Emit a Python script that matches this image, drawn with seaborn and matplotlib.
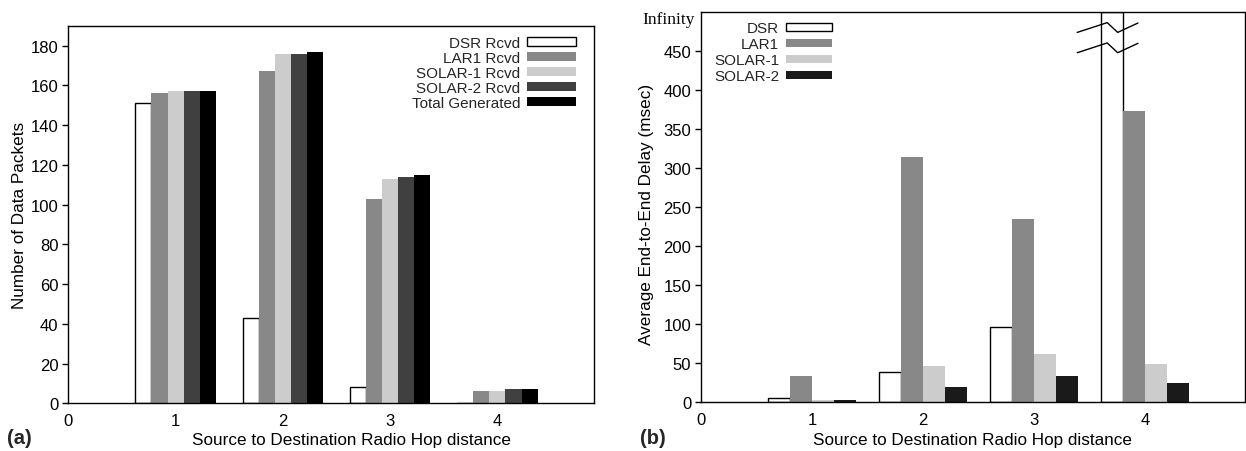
import numpy as np
import pandas as pd
import matplotlib
matplotlib.use("Agg")
import matplotlib.pyplot as plt
import matplotlib.patches as mpatches
import matplotlib.transforms as mtrans
import seaborn as sns

# ---------------- data ----------------
hops = [1, 2, 3, 4]

# panel (a): number of data packets
series_a = ["DSR Rcvd", "LAR1 Rcvd", "SOLAR-1 Rcvd", "SOLAR-2 Rcvd", "Total Generated"]
dsr_rcvd = [151, 43, 8, 0]
lar1_rcvd = [156, 167, 103, 6]
solar1_rcvd = [157, 176, 113, 6]
solar2_rcvd = [157, 176, 114, 7]
total_generated = [157, 177, 115, 7]
colors_a = ["#ffffff", "#888888", "#cccccc", "#404040", "#000000"]

# panel (b): average end-to-end delay (msec)
series_b = ["DSR", "LAR1", "SOLAR-1", "SOLAR-2"]
dsr_delay = [6, 39, 97, np.inf]
lar1_delay = [34, 314, 234, 373]
solar1_delay = [3, 46, 62, 49]
solar2_delay = [3, 20, 34, 25]
colors_b = ["#ffffff", "#888888", "#cccccc", "#1a1a1a"]

x_ticks = [0, 1, 2, 3, 4]
yticks_a = list(range(0, 181, 20))
yticks_b = list(range(0, 451, 50))
YMAX_A = 190
YMAX_B = 500
XLABEL = "Source to Destination Radio Hop distance"

# ---------------- style ----------------
sns.set_theme(style="white")
plt.rcParams["font.family"] = ["Liberation Sans", "DejaVu Sans"]
plt.rcParams["axes.edgecolor"] = "black"
plt.rcParams["axes.linewidth"] = 1.0

TICK_FS = 12
LABEL_FS = 12.3
LEG_FS = 11

W, H = 1246, 452
fig = plt.figure(figsize=(W / 100, H / 100), dpi=100)
ax1 = fig.add_axes([68.3 / W, 1 - 404.3 / H, (594 - 68.3) / W, (404.3 - 26.7) / H])
ax2 = fig.add_axes([701 / W, 1 - 403.3 / H, (1244.8 - 701) / W, (403.3 - 12.7) / H])


def long_df(names, arrays, cap):
    rows = []
    for name, arr in zip(names, arrays):
        for h, v in zip(hops, arr):
            rows.append({"hop": h, "value": min(v, cap), "series": name})
    return pd.DataFrame(rows)


df_a = long_df(series_a, [dsr_rcvd, lar1_rcvd, solar1_rcvd, solar2_rcvd, total_generated], YMAX_A)
df_b = long_df(series_b, [dsr_delay, lar1_delay, solar1_delay, solar2_delay], YMAX_B)


def draw(ax, df, names, colors, width, ymax, yticks, ylabel):
    sns.barplot(data=df, x="hop", y="value", hue="series", hue_order=names,
                palette=dict(zip(names, colors)), native_scale=True, width=width,
                saturation=1, errorbar=None, legend=False, ax=ax)
    for p in ax.patches:
        fc = p.get_facecolor()
        if fc[0] > 0.99 and fc[1] > 0.99 and fc[2] > 0.99:
            p.set_edgecolor("black")
            p.set_linewidth(1.0)
        else:
            p.set_edgecolor("none")
            p.set_linewidth(0)
    ax.set_xlim(0, 4.9)
    ax.set_ylim(0, ymax)
    ax.set_xticks(x_ticks)
    ax.set_xticklabels([str(t) for t in x_ticks])
    ax.set_yticks(yticks)
    ax.set_yticklabels([str(t) for t in yticks])
    ax.tick_params(axis="x", length=0, pad=7, labelsize=TICK_FS, colors="black")
    ax.tick_params(axis="y", length=4, width=1, direction="out", pad=3,
                   labelsize=TICK_FS, colors="black", left=True)
    ax.set_xlabel(XLABEL, fontsize=LABEL_FS, color="black")
    ax.set_ylabel(ylabel, fontsize=LABEL_FS, color="black")
    ax.xaxis.label.set_va("center")
    ax.yaxis.label.set_va("center")
    for s in ax.spines.values():
        s.set_visible(True)
        s.set_color("black")
        s.set_linewidth(1.0)
    handles = []
    for n, c in zip(names, colors):
        if c == "#ffffff":
            handles.append(mpatches.Patch(facecolor=c, edgecolor="black", linewidth=1.0, label=n))
        else:
            handles.append(mpatches.Patch(facecolor=c, edgecolor="none", label=n))
    return handles


h1 = draw(ax1, df_a, series_a, colors_a, 0.75, YMAX_A, yticks_a, "Number of Data Packets")
ax1.xaxis.set_label_coords((351.5 - 68.3) / 525.7, -(441 - 404.3) / 377.6)
ax1.yaxis.set_label_coords(-(68.3 - 20) / 525.7, 0.5)
ax1.legend(handles=h1, loc="upper right", bbox_to_anchor=(0.966, 0.973), frameon=False,
           markerfirst=False, fontsize=LEG_FS, handlelength=3.2, handleheight=0.5,
           handletextpad=0.45, labelspacing=0.07, borderpad=0, borderaxespad=0)

h2 = draw(ax2, df_b, series_b, colors_b, 0.8, YMAX_B, yticks_b, "Average End-to-End Delay (msec)")
ax2.xaxis.set_label_coords(0.5, -(441 - 403.3) / 390.6)
ax2.yaxis.set_label_coords(-(701 - 647) / 543.8, (403.3 - 214.5) / 390.6)
ax2.legend(handles=h2, loc="upper right", bbox_to_anchor=(0.2405, 0.975), frameon=False,
           markerfirst=False, fontsize=LEG_FS, handlelength=3.0, handleheight=0.5,
           handletextpad=0.45, labelspacing=0.13, borderpad=0, borderaxespad=0)

# "Infinity" label for the top of the delay axis
trans = mtrans.blended_transform_factory(ax2.transAxes, ax2.transData)
ax2.text(-0.011, 491, "Infinity", transform=trans, ha="right", va="center",
         fontsize=12.5, family=["Liberation Serif", "DejaVu Serif"], color="black")

# axis-break marks on the infinite DSR bar at hop 4
inf_idx = [i for i, v in enumerate(dsr_delay) if np.isinf(v)]
for i in inf_idx:
    xc = hops[i] - 0.3  # centre of the first (DSR) bar in the group
    dx = np.array([-0.31, -0.04, 0.055, 0.237])
    for base in (473.5, 447.5):
        dy = np.array([0, 12.5, 0, 12.0])
        ax2.plot(xc + dx, base + dy, color="black", lw=1.0, clip_on=False, zorder=5)

fig.text(7 / W, 1 - 439 / H, "(a)", fontsize=14.5, weight="bold", va="center", ha="left")
fig.text(640 / W, 1 - 439 / H, "(b)", fontsize=14.5, weight="bold", va="center", ha="left")

fig.savefig("out.png", dpi=100)
